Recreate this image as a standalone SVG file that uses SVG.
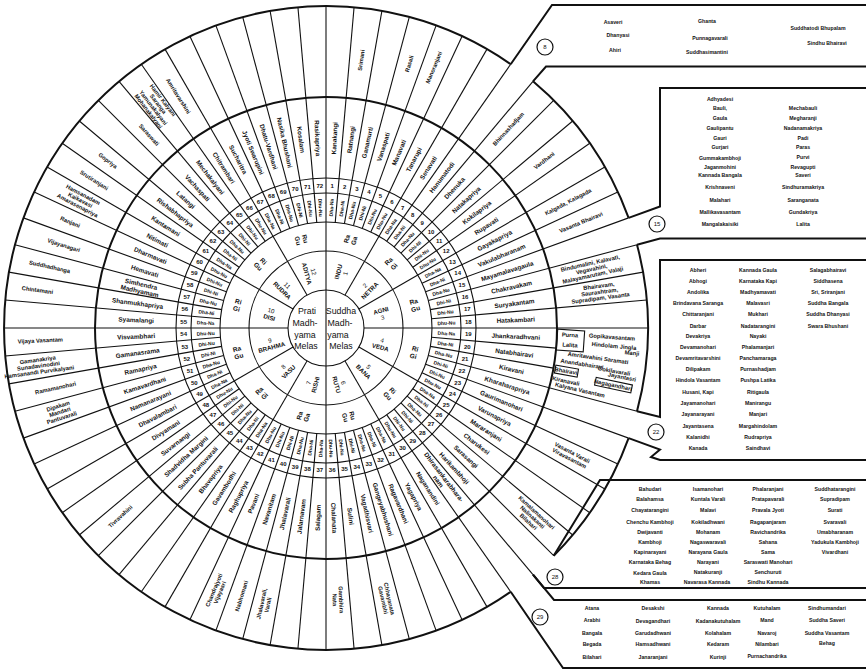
<svg xmlns="http://www.w3.org/2000/svg" width="866" height="669" viewBox="0 0 866 669">
<style>
text{font-family:"Liberation Sans",Arial,sans-serif;font-weight:bold;text-anchor:middle;dominant-baseline:central;fill:#111}
.n{font-size:6.4px}
.d{font-size:5px}
.k{font-size:6px}
.j{font-size:5.8px}
.b{font-size:5.2px}
.rg{font-size:6.5px}
.ck{font-size:6.2px}
.c{font-size:8.8px;font-weight:normal}
.cn{font-size:6px;font-weight:normal}
.ln{stroke:#111;stroke-width:1.1;fill:none}
.th{stroke:#111;stroke-width:2;fill:none}
.ci{stroke:#111;stroke-width:1.2;fill:#fff}
</style>
<defs>
<line id="m" x1="106" y1="0" x2="322" y2="0"/>
<line id="s" x1="106" y1="0" x2="231" y2="0"/>
<line id="c" x1="38" y1="0" x2="106" y2="0"/>
</defs>
<rect width="866" height="669" fill="#fff"/>

<g id="rings" transform="translate(326 328)">
<circle r="38" class="ln"/>
<circle r="77" class="ln"/>
<circle r="106" class="ln"/>
<circle r="135" class="ln"/>
<circle r="150" class="ln"/>
<circle r="231" class="th"/>
<line x1="0" y1="-38" x2="0" y2="38" class="ln"/>
<g class="ln">
<use href="#c" transform="rotate(-90)"/><use href="#c" transform="rotate(-60)"/><use href="#c" transform="rotate(-30)"/><use href="#c" transform="rotate(0)"/><use href="#c" transform="rotate(30)"/><use href="#c" transform="rotate(60)"/><use href="#c" transform="rotate(90)"/><use href="#c" transform="rotate(120)"/><use href="#c" transform="rotate(150)"/><use href="#c" transform="rotate(180)"/><use href="#c" transform="rotate(210)"/><use href="#c" transform="rotate(240)"/>
<use href="#m" transform="rotate(-90)"/><use href="#m" transform="rotate(-85)"/><use href="#m" transform="rotate(-80)"/><use href="#m" transform="rotate(-75)"/><use href="#m" transform="rotate(-70)"/><use href="#m" transform="rotate(-65)"/><use href="#m" transform="rotate(-60)"/><use href="#m" transform="rotate(-55)"/><use href="#m" transform="rotate(-50)"/><use href="#m" transform="rotate(-45)"/><use href="#m" transform="rotate(-40)"/><use href="#m" transform="rotate(-35)"/><use href="#m" transform="rotate(-30)"/><use href="#m" transform="rotate(-25)"/><use href="#m" transform="rotate(-20)"/><use href="#m" transform="rotate(-15)"/><use href="#m" transform="rotate(-10)"/><use href="#m" transform="rotate(-5)"/>
<use href="#m" transform="rotate(0)"/><use href="#s" transform="rotate(5)"/><use href="#s" transform="rotate(10)"/><use href="#m" transform="rotate(15)"/><use href="#m" transform="rotate(20)"/><use href="#m" transform="rotate(25)"/><use href="#m" transform="rotate(30)"/><use href="#m" transform="rotate(35)"/><use href="#m" transform="rotate(40)"/><use href="#m" transform="rotate(45)"/><use href="#m" transform="rotate(50)"/><use href="#m" transform="rotate(55)"/><use href="#m" transform="rotate(60)"/><use href="#m" transform="rotate(65)"/><use href="#m" transform="rotate(70)"/><use href="#m" transform="rotate(75)"/><use href="#m" transform="rotate(80)"/><use href="#m" transform="rotate(85)"/>
<use href="#m" transform="rotate(90)"/><use href="#m" transform="rotate(95)"/><use href="#m" transform="rotate(100)"/><use href="#m" transform="rotate(105)"/><use href="#m" transform="rotate(110)"/><use href="#m" transform="rotate(115)"/><use href="#m" transform="rotate(120)"/><use href="#m" transform="rotate(125)"/><use href="#m" transform="rotate(130)"/><use href="#m" transform="rotate(135)"/><use href="#m" transform="rotate(140)"/><use href="#m" transform="rotate(145)"/><use href="#m" transform="rotate(150)"/><use href="#m" transform="rotate(155)"/><use href="#m" transform="rotate(160)"/><use href="#m" transform="rotate(165)"/><use href="#m" transform="rotate(170)"/><use href="#m" transform="rotate(175)"/>
<use href="#m" transform="rotate(180)"/><use href="#m" transform="rotate(185)"/><use href="#m" transform="rotate(190)"/><use href="#m" transform="rotate(195)"/><use href="#m" transform="rotate(200)"/><use href="#m" transform="rotate(205)"/><use href="#m" transform="rotate(210)"/><use href="#m" transform="rotate(215)"/><use href="#m" transform="rotate(220)"/><use href="#m" transform="rotate(225)"/><use href="#m" transform="rotate(230)"/><use href="#m" transform="rotate(235)"/><use href="#m" transform="rotate(240)"/><use href="#m" transform="rotate(245)"/><use href="#m" transform="rotate(250)"/><use href="#m" transform="rotate(255)"/><use href="#m" transform="rotate(260)"/><use href="#m" transform="rotate(265)"/>
</g>
</g>

<g id="outer-circle">
<path class="th" d="M510.7 64.2A322 322 0 1 0 510.7 591.8"/>
<path class="th" d="M533 81.3A322 322 0 0 1 628.6 217.9"/>
<path class="th" d="M637 244.7A322 322 0 0 1 637 411.3"/>
<path class="th" d="M628.6 438.1A322 322 0 0 1 553.7 555.7"/>
</g>

<g id="centre" transform="translate(326 328)">
<text class="c" x="-19" y="-17">Prati</text><text class="c" x="-21" y="-5">Madh-</text><text class="c" x="-21" y="7">yama</text><text class="c" x="-20" y="18">Melas</text>
<text class="c" x="15" y="-17">Suddha</text><text class="c" x="14" y="-5">Madh-</text><text class="c" x="12" y="7">yama</text><text class="c" x="15" y="18">Melas</text>
</g>

<g id="chakras" transform="translate(326 328)" class="ck">
<text transform="rotate(-75) translate(57.5)"><tspan x="0" dy="-0.55em">INDU</tspan><tspan x="0" dy="1.15em" font-weight="normal">1</tspan></text>
<text transform="rotate(-45) translate(57.5)"><tspan x="0" dy="-0.55em" font-weight="normal">2</tspan><tspan x="0" dy="1.15em">NETRA</tspan></text>
<text transform="rotate(-15) translate(57.5)"><tspan x="0" dy="-0.55em">AGNI</tspan><tspan x="0" dy="1.15em" font-weight="normal">3</tspan></text>
<text transform="rotate(15) translate(57.5)"><tspan x="0" dy="-0.55em" font-weight="normal">4</tspan><tspan x="0" dy="1.15em">VEDA</tspan></text>
<text transform="rotate(45) translate(57.5)"><tspan x="0" dy="-0.55em" font-weight="normal">5</tspan><tspan x="0" dy="1.15em">BANA</tspan></text>
<text transform="rotate(75) translate(57.5)"><tspan x="0" dy="-0.55em" font-weight="normal">6</tspan><tspan x="0" dy="1.15em">RUTU</tspan></text>
<text transform="rotate(-75) translate(-57.5)"><tspan x="0" dy="-0.55em" font-weight="normal">7</tspan><tspan x="0" dy="1.15em">RISHI</tspan></text>
<text transform="rotate(-45) translate(-57.5)"><tspan x="0" dy="-0.55em" font-weight="normal">8</tspan><tspan x="0" dy="1.15em">VASU</tspan></text>
<text transform="rotate(-15) translate(-57.5)"><tspan x="0" dy="-0.55em" font-weight="normal">9</tspan><tspan x="0" dy="1.15em">BRAHMA</tspan></text>
<text transform="rotate(15) translate(-57.5)"><tspan x="0" dy="-0.55em" font-weight="normal">10</tspan><tspan x="0" dy="1.15em">DISI</tspan></text>
<text transform="rotate(45) translate(-57.5)"><tspan x="0" dy="-0.55em" font-weight="normal">11</tspan><tspan x="0" dy="1.15em">RUDRA</tspan></text>
<text transform="rotate(75) translate(-57.5)"><tspan x="0" dy="-0.55em" font-weight="normal">12</tspan><tspan x="0" dy="1.15em">ADITYA</tspan></text>
</g>

<g id="rigu" transform="translate(326 328)" class="rg">
<text transform="rotate(-75) translate(91.5)"><tspan x="0" dy="-0.55em">Ra</tspan><tspan x="0" dy="1.15em">Ga</tspan></text>
<text transform="rotate(-45) translate(91.5)"><tspan x="0" dy="-0.55em">Ra</tspan><tspan x="0" dy="1.15em">Gi</tspan></text>
<text transform="rotate(-15) translate(91.5)"><tspan x="0" dy="-0.55em">Ra</tspan><tspan x="0" dy="1.15em">Gu</tspan></text>
<text transform="rotate(15) translate(91.5)"><tspan x="0" dy="-0.55em">Ri</tspan><tspan x="0" dy="1.15em">Gi</tspan></text>
<text transform="rotate(45) translate(91.5)"><tspan x="0" dy="-0.55em">Ri</tspan><tspan x="0" dy="1.15em">Gu</tspan></text>
<text transform="rotate(75) translate(91.5)"><tspan x="0" dy="-0.55em">Ru</tspan><tspan x="0" dy="1.15em">Gu</tspan></text>
<text transform="rotate(-75) translate(-91.5)"><tspan x="0" dy="-0.55em">Ra</tspan><tspan x="0" dy="1.15em">Ga</tspan></text>
<text transform="rotate(-45) translate(-91.5)"><tspan x="0" dy="-0.55em">Ra</tspan><tspan x="0" dy="1.15em">Gi</tspan></text>
<text transform="rotate(-15) translate(-91.5)"><tspan x="0" dy="-0.55em">Ra</tspan><tspan x="0" dy="1.15em">Gu</tspan></text>
<text transform="rotate(15) translate(-91.5)"><tspan x="0" dy="-0.55em">Ri</tspan><tspan x="0" dy="1.15em">Gi</tspan></text>
<text transform="rotate(45) translate(-91.5)"><tspan x="0" dy="-0.55em">Ri</tspan><tspan x="0" dy="1.15em">Gu</tspan></text>
<text transform="rotate(75) translate(-91.5)"><tspan x="0" dy="-0.55em">Ru</tspan><tspan x="0" dy="1.15em">Gu</tspan></text>
</g>

<g id="dhani" transform="translate(326 328)" class="d">
<text transform="rotate(-87.5) translate(120.5)">Dha-Na</text><text transform="rotate(-82.5) translate(120.5)">Dha-Ni</text><text transform="rotate(-77.5) translate(120.5)">Dha-Nu</text><text transform="rotate(-72.5) translate(120.5)">Dhi-Ni</text><text transform="rotate(-67.5) translate(120.5)">Dhi-Nu</text><text transform="rotate(-62.5) translate(120.5)">Dhu-Nu</text>
<text transform="rotate(-57.5) translate(120.5)">Dha-Na</text><text transform="rotate(-52.5) translate(120.5)">Dha-Ni</text><text transform="rotate(-47.5) translate(120.5)">Dha-Nu</text><text transform="rotate(-42.5) translate(120.5)">Dhi-Ni</text><text transform="rotate(-37.5) translate(120.5)">Dhi-Nu</text><text transform="rotate(-32.5) translate(120.5)">Dhu-Nu</text>
<text transform="rotate(-27.5) translate(120.5)">Dha-Na</text><text transform="rotate(-22.5) translate(120.5)">Dha-Ni</text><text transform="rotate(-17.5) translate(120.5)">Dha-Nu</text><text transform="rotate(-12.5) translate(120.5)">Dhi-Ni</text><text transform="rotate(-7.5) translate(120.5)">Dhi-Nu</text><text transform="rotate(-2.5) translate(120.5)">Dhu-Nu</text>
<text transform="rotate(2.5) translate(120.5)">Dha-Na</text><text transform="rotate(7.5) translate(120.5)">Dha-Ni</text><text transform="rotate(12.5) translate(120.5)">Dha-Nu</text><text transform="rotate(17.5) translate(120.5)">Dhi-Ni</text><text transform="rotate(22.5) translate(120.5)">Dhi-Nu</text><text transform="rotate(27.5) translate(120.5)">Dhu-Nu</text>
<text transform="rotate(32.5) translate(120.5)">Dha-Na</text><text transform="rotate(37.5) translate(120.5)">Dha-Ni</text><text transform="rotate(42.5) translate(120.5)">Dha-Nu</text><text transform="rotate(47.5) translate(120.5)">Dhi-Ni</text><text transform="rotate(52.5) translate(120.5)">Dhi-Nu</text><text transform="rotate(57.5) translate(120.5)">Dhu-Nu</text>
<text transform="rotate(62.5) translate(120.5)">Dha-Na</text><text transform="rotate(67.5) translate(120.5)">Dha-Ni</text><text transform="rotate(72.5) translate(120.5)">Dha-Nu</text><text transform="rotate(77.5) translate(120.5)">Dhi-Ni</text><text transform="rotate(82.5) translate(120.5)">Dhi-Nu</text><text transform="rotate(87.5) translate(120.5)">Dhu-Nu</text>
<text transform="rotate(-87.5) translate(-120.5)">Dha-Na</text><text transform="rotate(-82.5) translate(-120.5)">Dha-Ni</text><text transform="rotate(-77.5) translate(-120.5)">Dha-Nu</text><text transform="rotate(-72.5) translate(-120.5)">Dhi-Ni</text><text transform="rotate(-67.5) translate(-120.5)">Dhi-Nu</text><text transform="rotate(-62.5) translate(-120.5)">Dhu-Nu</text>
<text transform="rotate(-57.5) translate(-120.5)">Dha-Na</text><text transform="rotate(-52.5) translate(-120.5)">Dha-Ni</text><text transform="rotate(-47.5) translate(-120.5)">Dha-Nu</text><text transform="rotate(-42.5) translate(-120.5)">Dhi-Ni</text><text transform="rotate(-37.5) translate(-120.5)">Dhi-Nu</text><text transform="rotate(-32.5) translate(-120.5)">Dhu-Nu</text>
<text transform="rotate(-27.5) translate(-120.5)">Dha-Na</text><text transform="rotate(-22.5) translate(-120.5)">Dha-Ni</text><text transform="rotate(-17.5) translate(-120.5)">Dha-Nu</text><text transform="rotate(-12.5) translate(-120.5)">Dhi-Ni</text><text transform="rotate(-7.5) translate(-120.5)">Dhi-Nu</text><text transform="rotate(-2.5) translate(-120.5)">Dhu-Nu</text>
<text transform="rotate(2.5) translate(-120.5)">Dha-Na</text><text transform="rotate(7.5) translate(-120.5)">Dha-Ni</text><text transform="rotate(12.5) translate(-120.5)">Dha-Nu</text><text transform="rotate(17.5) translate(-120.5)">Dhi-Ni</text><text transform="rotate(22.5) translate(-120.5)">Dhi-Nu</text><text transform="rotate(27.5) translate(-120.5)">Dhu-Nu</text>
<text transform="rotate(32.5) translate(-120.5)">Dha-Na</text><text transform="rotate(37.5) translate(-120.5)">Dha-Ni</text><text transform="rotate(42.5) translate(-120.5)">Dha-Nu</text><text transform="rotate(47.5) translate(-120.5)">Dhi-Ni</text><text transform="rotate(52.5) translate(-120.5)">Dhi-Nu</text><text transform="rotate(57.5) translate(-120.5)">Dhu-Nu</text>
<text transform="rotate(62.5) translate(-120.5)">Dha-Na</text><text transform="rotate(67.5) translate(-120.5)">Dha-Ni</text><text transform="rotate(72.5) translate(-120.5)">Dha-Nu</text><text transform="rotate(77.5) translate(-120.5)">Dhi-Ni</text><text transform="rotate(82.5) translate(-120.5)">Dhi-Nu</text><text transform="rotate(87.5) translate(-120.5)">Dhu-Nu</text>
</g>

<g id="numbers" transform="translate(326 328)" class="k">
<text transform="rotate(-87.5) translate(142.5) rotate(87.5)">1</text><text transform="rotate(-82.5) translate(142.5) rotate(82.5)">2</text><text transform="rotate(-77.5) translate(142.5) rotate(77.5)">3</text><text transform="rotate(-72.5) translate(142.5) rotate(72.5)">4</text><text transform="rotate(-67.5) translate(142.5) rotate(67.5)">5</text><text transform="rotate(-62.5) translate(142.5) rotate(62.5)">6</text>
<text transform="rotate(-57.5) translate(142.5) rotate(57.5)">7</text><text transform="rotate(-52.5) translate(142.5) rotate(52.5)">8</text><text transform="rotate(-47.5) translate(142.5) rotate(47.5)">9</text><text transform="rotate(-42.5) translate(142.5) rotate(42.5)">10</text><text transform="rotate(-37.5) translate(142.5) rotate(37.5)">11</text><text transform="rotate(-32.5) translate(142.5) rotate(32.5)">12</text>
<text transform="rotate(-27.5) translate(142.5) rotate(27.5)">13</text><text transform="rotate(-22.5) translate(142.5) rotate(22.5)">14</text><text transform="rotate(-17.5) translate(142.5) rotate(17.5)">15</text><text transform="rotate(-12.5) translate(142.5) rotate(12.5)">16</text><text transform="rotate(-7.5) translate(142.5) rotate(7.5)">17</text><text transform="rotate(-2.5) translate(142.5) rotate(2.5)">18</text>
<text transform="rotate(2.5) translate(142.5) rotate(-2.5)">19</text><text transform="rotate(7.5) translate(142.5) rotate(-7.5)">20</text><text transform="rotate(12.5) translate(142.5) rotate(-12.5)">21</text><text transform="rotate(17.5) translate(142.5) rotate(-17.5)">22</text><text transform="rotate(22.5) translate(142.5) rotate(-22.5)">23</text><text transform="rotate(27.5) translate(142.5) rotate(-27.5)">24</text>
<text transform="rotate(32.5) translate(142.5) rotate(-32.5)">25</text><text transform="rotate(37.5) translate(142.5) rotate(-37.5)">26</text><text transform="rotate(42.5) translate(142.5) rotate(-42.5)">27</text><text transform="rotate(47.5) translate(142.5) rotate(-47.5)">28</text><text transform="rotate(52.5) translate(142.5) rotate(-52.5)">29</text><text transform="rotate(57.5) translate(142.5) rotate(-57.5)">30</text>
<text transform="rotate(62.5) translate(142.5) rotate(-62.5)">31</text><text transform="rotate(67.5) translate(142.5) rotate(-67.5)">32</text><text transform="rotate(72.5) translate(142.5) rotate(-72.5)">33</text><text transform="rotate(77.5) translate(142.5) rotate(-77.5)">34</text><text transform="rotate(82.5) translate(142.5) rotate(-82.5)">35</text><text transform="rotate(87.5) translate(142.5) rotate(-87.5)">36</text>
<text transform="rotate(-87.5) translate(-142.5) rotate(87.5)">37</text><text transform="rotate(-82.5) translate(-142.5) rotate(82.5)">38</text><text transform="rotate(-77.5) translate(-142.5) rotate(77.5)">39</text><text transform="rotate(-72.5) translate(-142.5) rotate(72.5)">40</text><text transform="rotate(-67.5) translate(-142.5) rotate(67.5)">41</text><text transform="rotate(-62.5) translate(-142.5) rotate(62.5)">42</text>
<text transform="rotate(-57.5) translate(-142.5) rotate(57.5)">43</text><text transform="rotate(-52.5) translate(-142.5) rotate(52.5)">44</text><text transform="rotate(-47.5) translate(-142.5) rotate(47.5)">45</text><text transform="rotate(-42.5) translate(-142.5) rotate(42.5)">46</text><text transform="rotate(-37.5) translate(-142.5) rotate(37.5)">47</text><text transform="rotate(-32.5) translate(-142.5) rotate(32.5)">48</text>
<text transform="rotate(-27.5) translate(-142.5) rotate(27.5)">49</text><text transform="rotate(-22.5) translate(-142.5) rotate(22.5)">50</text><text transform="rotate(-17.5) translate(-142.5) rotate(17.5)">51</text><text transform="rotate(-12.5) translate(-142.5) rotate(12.5)">52</text><text transform="rotate(-7.5) translate(-142.5) rotate(7.5)">53</text><text transform="rotate(-2.5) translate(-142.5) rotate(2.5)">54</text>
<text transform="rotate(2.5) translate(-142.5) rotate(-2.5)">55</text><text transform="rotate(7.5) translate(-142.5) rotate(-7.5)">56</text><text transform="rotate(12.5) translate(-142.5) rotate(-12.5)">57</text><text transform="rotate(17.5) translate(-142.5) rotate(-17.5)">58</text><text transform="rotate(22.5) translate(-142.5) rotate(-22.5)">59</text><text transform="rotate(27.5) translate(-142.5) rotate(-27.5)">60</text>
<text transform="rotate(32.5) translate(-142.5) rotate(-32.5)">61</text><text transform="rotate(37.5) translate(-142.5) rotate(-37.5)">62</text><text transform="rotate(42.5) translate(-142.5) rotate(-42.5)">63</text><text transform="rotate(47.5) translate(-142.5) rotate(-47.5)">64</text><text transform="rotate(52.5) translate(-142.5) rotate(-52.5)">65</text><text transform="rotate(57.5) translate(-142.5) rotate(-57.5)">66</text>
<text transform="rotate(62.5) translate(-142.5) rotate(-62.5)">67</text><text transform="rotate(67.5) translate(-142.5) rotate(-67.5)">68</text><text transform="rotate(72.5) translate(-142.5) rotate(-72.5)">69</text><text transform="rotate(77.5) translate(-142.5) rotate(-77.5)">70</text><text transform="rotate(82.5) translate(-142.5) rotate(-82.5)">71</text><text transform="rotate(87.5) translate(-142.5) rotate(-87.5)">72</text>
</g>

<g id="melas" transform="translate(326 328)" class="n">
<text transform="rotate(-87.5) translate(190)">Kanakangi</text><text transform="rotate(-82.5) translate(190)">Ratnangi</text><text transform="rotate(-77.5) translate(190)">Ganamurti</text><text transform="rotate(-72.5) translate(190)">Vanaspati</text><text transform="rotate(-67.5) translate(190)">Manavati</text><text transform="rotate(-62.5) translate(190)">Tanarupi</text>
<text transform="rotate(-57.5) translate(190)">Senavati</text><text transform="rotate(-52.5) translate(190)">Hanumatodi</text><text transform="rotate(-47.5) translate(190)">Dhenuka</text><text transform="rotate(-42.5) translate(190)">Natakapriya</text><text transform="rotate(-37.5) translate(190)">Kokilapriya</text><text transform="rotate(-32.5) translate(190)">Rupavati</text>
<text transform="rotate(-27.5) translate(190)">Gayakapriya</text><text transform="rotate(-22.5) translate(190)">Vakulabharanam</text><text transform="rotate(-17.5) translate(190)">Mayamalavagaula</text><text transform="rotate(-12.5) translate(190)">Chakravakam</text><text transform="rotate(-7.5) translate(190)">Suryakantam</text><text transform="rotate(-2.5) translate(190)">Hatakambari</text>
<text transform="rotate(2.5) translate(190)">Jhankaradhvani</text><text transform="rotate(7.5) translate(190)">Natabhairavi</text><text transform="rotate(12.5) translate(190)">Kiravani</text><text transform="rotate(17.5) translate(190)">Kharaharapriya</text><text transform="rotate(22.5) translate(190)">Gaurimanohari</text><text transform="rotate(27.5) translate(190)">Varunapriya</text>
<text transform="rotate(32.5) translate(190)">Mararanjani</text><text transform="rotate(37.5) translate(190)">Charukesi</text><text transform="rotate(42.5) translate(190)">Sarasangi</text><text transform="rotate(47.5) translate(190)">Harikambhoji</text><text transform="rotate(52.5) translate(190)"><tspan x="0" dy="-0.55em">Dhirasankarabhara-</tspan><tspan x="0" dy="1.1em">nam</tspan></text><text transform="rotate(57.5) translate(190)">Naganandini</text>
<text transform="rotate(62.5) translate(190)">Yagapriya</text><text transform="rotate(67.5) translate(190)">Ragavardhani</text><text transform="rotate(72.5) translate(190)">Gangeyabhushani</text><text transform="rotate(77.5) translate(190)">Vagadhisvari</text><text transform="rotate(82.5) translate(190)">Sulini</text><text transform="rotate(87.5) translate(190)">Chalanata</text>
<text transform="rotate(-87.5) translate(-190)">Salagam</text><text transform="rotate(-82.5) translate(-190)">Jalarnavam</text><text transform="rotate(-77.5) translate(-190)">Jhalavarali</text><text transform="rotate(-72.5) translate(-190)">Navanitam</text><text transform="rotate(-67.5) translate(-190)">Pavani</text><text transform="rotate(-62.5) translate(-190)">Raghupriya</text>
<text transform="rotate(-57.5) translate(-190)">Gavambodhi</text><text transform="rotate(-52.5) translate(-190)">Bhavapriya</text><text transform="rotate(-47.5) translate(-190)">Subha Pantuvarali</text><text transform="rotate(-42.5) translate(-190)">Shadvidha Margini</text><text transform="rotate(-37.5) translate(-190)">Suvarnangi</text><text transform="rotate(-32.5) translate(-190)">Divyamani</text>
<text transform="rotate(-27.5) translate(-190)">Dhavalambari</text><text transform="rotate(-22.5) translate(-190)">Namanarayani</text><text transform="rotate(-17.5) translate(-190)">Kamavardhani</text><text transform="rotate(-12.5) translate(-190)">Ramapriya</text><text transform="rotate(-7.5) translate(-190)">Gamanasrama</text><text transform="rotate(-2.5) translate(-190)">Visvambhari</text>
<text transform="rotate(2.5) translate(-190)">Syamalangi</text><text transform="rotate(7.5) translate(-190)">Shanmukhapriya</text><text transform="rotate(12.5) translate(-190)"><tspan x="0" dy="-0.55em">Simhendra</tspan><tspan x="0" dy="1.1em">Madhyamam</tspan></text><text transform="rotate(17.5) translate(-190)">Hemavati</text><text transform="rotate(22.5) translate(-190)">Dharmavati</text><text transform="rotate(27.5) translate(-190)">Nitimati</text>
<text transform="rotate(32.5) translate(-190)">Kantamani</text><text transform="rotate(37.5) translate(-190)">Rishabhapriya</text><text transform="rotate(42.5) translate(-190)">Latangi</text><text transform="rotate(47.5) translate(-190)">Vachaspati</text><text transform="rotate(52.5) translate(-190)">Mechakalyani</text><text transform="rotate(57.5) translate(-190)">Chitrambari</text>
<text transform="rotate(62.5) translate(-190)">Sucharitra</text><text transform="rotate(67.5) translate(-190)">Jyoti Swarupini</text><text transform="rotate(72.5) translate(-190)">Dhatu-Vardhani</text><text transform="rotate(77.5) translate(-190)">Nasika Bhushani</text><text transform="rotate(82.5) translate(-190)">Kosalam</text><text transform="rotate(87.5) translate(-190)">Rasikapriya</text>
</g>

<g id="janyas" transform="translate(326 328)" class="j">
<text transform="rotate(-82.5) translate(270)">Srimani</text>
<text transform="rotate(-72.5) translate(277)">Rasali</text>
<text transform="rotate(-67.5) translate(282)">Manoranjani</text>
<text transform="rotate(-47.5) translate(270)">Bhinnashadjam</text>
<text transform="rotate(-37.5) translate(275)">Vardhani</text>
<text transform="rotate(-27.5) translate(273)">Kalgada, Kalagada</text>
<text transform="rotate(-22.5) translate(276)">Vasanta Bhairavi</text>
<text transform="rotate(-12.5) translate(272)"><tspan x="0" dy="-1.05em">Bindumalini, Kalavati,</tspan><tspan x="0" dy="1.05em">Vegavahini,</tspan><tspan x="0" dy="1.05em">Malayamarutam, Valaji</tspan></text>
<text transform="rotate(-7.5) translate(276)"><tspan x="0" dy="-1.05em">Bhairavam,</tspan><tspan x="0" dy="1.05em">Saurashtram,</tspan><tspan x="0" dy="1.05em">Supradipam, Vasanta</tspan></text>
<text transform="rotate(27.5) translate(276)"><tspan x="0" dy="-0.55em">Vasanta Varali</tspan><tspan x="0" dy="1.1em">Viravasantam</tspan></text>
<text transform="rotate(42.5) translate(280)"><tspan x="0" dy="-1.05em">Kamalamanohari</tspan><tspan x="0" dy="1.05em">Nalinakanti</tspan><tspan x="0" dy="1.05em">Bilahari</tspan></text>
<text transform="rotate(77.5) translate(278)"><tspan x="0" dy="-0.55em">Chhayanata</tspan><tspan x="0" dy="1.1em">Gavambhi</tspan></text>
<text transform="rotate(87.5) translate(272)"><tspan x="0" dy="-0.55em">Gambhira</tspan><tspan x="0" dy="1.1em">Nata</tspan></text>
<text transform="rotate(-77.5) translate(-283)"><tspan x="0" dy="-0.55em">Jhalavarali,</tspan><tspan x="0" dy="1.1em">Varali</tspan></text>
<text transform="rotate(-72.5) translate(-281)">Nabhomani</text>
<text transform="rotate(-67.5) translate(-285)"><tspan x="0" dy="-0.55em">Chandrajyoti</tspan><tspan x="0" dy="1.1em">Vijayasri</tspan></text>
<text transform="rotate(-42.5) translate(-279)">Tivravahini</text>
<text transform="rotate(-17.5) translate(-279)"><tspan x="0" dy="-1.05em">Dipakam</tspan><tspan x="0" dy="1.05em">Mandari</tspan><tspan x="0" dy="1.05em">Pantuvarali</tspan></text>
<text transform="rotate(-12.5) translate(-277)">Ramamanohari</text>
<text transform="rotate(-7.5) translate(-290)"><tspan x="0" dy="-1.05em">Gamanakriya</tspan><tspan x="0" dy="1.05em">Sunadavinodini</tspan><tspan x="0" dy="1.05em">Hamsanandi Purvikalyani</tspan></text>
<text transform="rotate(-2.5) translate(-286)">Vijaya Vasantam</text>
<text transform="rotate(7.5) translate(-291)">Chintamani</text>
<text transform="rotate(12.5) translate(-283)">Suddhadhanga</text>
<text transform="rotate(17.5) translate(-275)">Vijayanagari</text>
<text transform="rotate(22.5) translate(-277)">Ranjani</text>
<text transform="rotate(27.5) translate(-277)"><tspan x="0" dy="-1.05em">Hamsanadam</tspan><tspan x="0" dy="1.05em">Kaikavasi</tspan><tspan x="0" dy="1.05em">Amarasenapriya</tspan></text>
<text transform="rotate(32.5) translate(-275)">Srutiranjani</text>
<text transform="rotate(37.5) translate(-275)">Gopriya</text>
<text transform="rotate(47.5) translate(-262)">Saraswati</text>
<text transform="rotate(52.5) translate(-280)"><tspan x="0" dy="-1.6em">Hamir Kalyani</tspan><tspan x="0" dy="1.05em">Saranga</tspan><tspan x="0" dy="1.05em">Yamunakalyani</tspan><tspan x="0" dy="1.05em">Mohanakalyani</tspan></text>
<text transform="rotate(57.5) translate(-275)">Amritavarshini</text>
</g>

<g id="sector19-22" class="j">
<rect x="557" y="330" width="27" height="21" class="ln" transform="rotate(4 570 340)"/>
<text x="570" y="335" transform="rotate(4 570 335)">Purna</text>
<text x="570" y="345" transform="rotate(4 570 345)">Lalita</text>
<text x="612" y="337" transform="rotate(4 612 337)">Gopikavasantam</text>
<text x="614" y="346" transform="rotate(5 614 346)">Hindolam Jingla</text>
<text x="632" y="353" transform="rotate(6 632 353)">Manji</text>
<text x="598" y="358" transform="rotate(8 598 358)">Amritavahini  Saramati</text>
<text x="582" y="364" transform="rotate(9 582 364)">Anandabhairavi</text>
<rect x="555" y="367" width="23" height="8" class="ln" transform="rotate(10 566 371)"/>
<text x="566" y="371" transform="rotate(10 566 371)">Bhairavi</text>
<text x="614" y="371" transform="rotate(10 614 371)">Gokilavarali</text>
<text x="622" y="377" transform="rotate(11 622 377)">Jayantasri</text>
<text x="566" y="381" transform="rotate(12 566 381)">Kiranavali</text>
<rect x="595" y="381" width="37" height="8" class="ln" transform="rotate(12 613 385)"/>
<text x="613" y="385" transform="rotate(12 613 385)">Nagagandhari</text>
<text x="580" y="390" transform="rotate(13 580 390)">Kalyana Vasantam</text>
</g>

<g id="callout-8">
<path class="th" d="M510.7 64.2L552 5H866M533 81.3L546 66.5H866"/>
<circle cx="545" cy="47" r="8" class="ci"/><text x="545" y="47" class="cn">8</text>
<g class="b"><text x="613" y="22">Asaveri</text><text x="618" y="35">Dhanyasi</text><text x="615" y="50">Ahiri</text>
<text x="707" y="21">Ghanta</text><text x="710" y="38">Punnagavarali</text><text x="707" y="52">Suddhasimantini</text>
<text x="818" y="28">Suddhatodi  Bhupalam</text><text x="827" y="43">Sindhu Bhairavi</text></g>
</g>

<g id="callout-15">
<path class="th" d="M628.6 217.9L660 206.5V88H866M637 244.7L660 238.5H866"/>
<circle cx="657" cy="224" r="8" class="ci"/><text x="657" y="224" class="cn">15</text>
<g class="b">
<text x="720" y="99">Adhyadesi</text><text x="720" y="108">Bauli,</text><text x="720" y="118">Gaula</text><text x="720" y="128">Gaulipantu</text><text x="720" y="138">Gauri</text><text x="720" y="147">Gurjari</text><text x="720" y="158">Gummakambhoji</text><text x="720" y="167">Jaganmohini</text><text x="720" y="175">Kannada Bangala</text><text x="720" y="187">Krishnaveni</text><text x="720" y="200">Malahari</text><text x="720" y="212">Mallikavasantam</text><text x="720" y="224">Mangalakaisiki</text>
<text x="803" y="108">Mechabauli</text><text x="803" y="118">Megharanji</text><text x="803" y="128">Nadanamakriya</text><text x="803" y="138">Padi</text><text x="803" y="147">Paras</text><text x="803" y="157">Purvi</text><text x="803" y="167">Revagupti</text><text x="803" y="175">Saveri</text><text x="803" y="187">Sindhuramakriya</text><text x="803" y="200">Saranganata</text><text x="803" y="212">Gundakriya</text><text x="803" y="224">Lalita</text>
</g>
</g>

<g id="callout-22">
<path class="th" d="M637 411.3L660 417V260H866M628.6 438.1L660 449.5L651 457L660 460H866"/>
<circle cx="656" cy="432" r="8" class="ci"/><text x="656" y="432" class="cn">22</text>
<g class="b">
<text x="698" y="270">Abheri</text><text x="698" y="281">Abhogi</text><text x="698" y="292">Andolika</text><text x="698" y="303">Brindavana Saranga</text><text x="698" y="314">Chittaranjani</text><text x="698" y="326">Darbar</text><text x="698" y="336">Devakriya</text><text x="698" y="347">Devamanohari</text><text x="698" y="358">Devamritavarshini</text><text x="698" y="369">Dilipakam</text><text x="698" y="380">Hindola Vasantam</text><text x="698" y="392">Husani, Kapi</text><text x="698" y="403">Jayamanohari</text><text x="698" y="414">Jayanarayani</text><text x="698" y="426">Jayantasena</text><text x="698" y="437">Kalanidhi</text><text x="698" y="448">Kanada</text>
<text x="758" y="270">Kannada Gaula</text><text x="758" y="281">Karnataka Kapi</text><text x="758" y="292">Madhyamavati</text><text x="758" y="303">Malavasri</text><text x="758" y="314">Mukhari</text><text x="758" y="326">Nadatarangini</text><text x="758" y="336">Nayaki</text><text x="758" y="347">Phalamanjari</text><text x="758" y="358">Panchamaraga</text><text x="758" y="369">Purnashadjam</text><text x="758" y="380">Pushpa Latika</text><text x="758" y="392">Ritigaula</text><text x="758" y="403">Manirangu</text><text x="758" y="414">Manjari</text><text x="758" y="426">Margahindolam</text><text x="758" y="437">Rudrapriya</text><text x="758" y="448">Saindhavi</text>
<text x="828" y="270">Salagabhairavi</text><text x="828" y="281">Siddhasena</text><text x="828" y="292">Sri, Sriranjani</text><text x="828" y="303">Suddha Bangala</text><text x="828" y="314">Suddha Dhanyasi</text><text x="828" y="326">Swara Bhushani</text>
</g>
</g>

<g id="callout-28">
<path class="th" d="M553.7 555.7L600 480H866M533 574.7L544 588H866"/>
<circle cx="555" cy="577" r="8" class="ci"/><text x="555" y="577" class="cn">28</text>
<g class="b">
<text x="650" y="489">Bahudari</text><text x="650" y="499">Balahamsa</text><text x="650" y="510">Chayatarangini</text><text x="650" y="522">Chenchu Kambhoji</text><text x="650" y="532">Dwijavanti</text><text x="650" y="542">Kambhoji</text><text x="650" y="552">Kapinarayani</text><text x="650" y="562">Karnataka Behag</text><text x="650" y="573">Kedara Gaula</text><text x="650" y="582">Khamas</text>
<text x="708" y="489">Isamanohari</text><text x="708" y="499">Kuntala Varali</text><text x="708" y="510">Malavi</text><text x="708" y="522">Kokiladhwani</text><text x="708" y="532">Mohanam</text><text x="708" y="542">Nagaswaravali</text><text x="708" y="552">Narayana Gaula</text><text x="708" y="562">Narayani</text><text x="708" y="572">Natakuranji</text><text x="707" y="582">Navarasa  Kannada</text>
<text x="768" y="489">Phalaranjani</text><text x="768" y="499">Pratapavarali</text><text x="768" y="510">Pravala Jyoti</text><text x="768" y="522">Ragapanjaram</text><text x="768" y="532">Ravichandrika</text><text x="768" y="542">Sahana</text><text x="768" y="552">Sama</text><text x="768" y="562">Saraswati Manohari</text><text x="768" y="572">Senchuruti</text><text x="768" y="582">Sindhu Kannada</text>
<text x="835" y="489">Suddhatarangini</text><text x="835" y="499">Supradipam</text><text x="835" y="510">Surati</text><text x="835" y="522">Svaravali</text><text x="835" y="532">Umabharanam</text><text x="835" y="542">Yadukula Kambhoji</text><text x="835" y="552">Vivardhani</text>
</g>
</g>

<g id="callout-29">
<path class="th" d="M533 574.7L554 600H866M510.7 591.8L563 668H866"/>
<circle cx="540" cy="617" r="8" class="ci"/><text x="540" y="617" class="cn">29</text>
<g class="b">
<text x="592" y="608">Atana</text><text x="592" y="620">Arabhi</text><text x="592" y="633">Bangala</text><text x="592" y="644">Begada</text><text x="592" y="657">Bilahari</text>
<text x="653" y="608">Desakshi</text><text x="653" y="621">Devagandhari</text><text x="653" y="633">Garudadhwani</text><text x="653" y="644">Hamsadhwani</text><text x="653" y="657">Janaranjani</text>
<text x="718" y="608">Kannada</text><text x="718" y="621">Kadanakutuhalam</text><text x="718" y="633">Kolahalam</text><text x="718" y="644">Kedaram</text><text x="718" y="657">Kurinji</text>
<text x="767" y="608">Kutuhalam</text><text x="767" y="620">Mand</text><text x="767" y="633">Navaroj</text><text x="767" y="644">Nilambari</text><text x="767" y="656">Purnachandrika</text>
<text x="827" y="608">Sindhumandari</text><text x="827" y="620">Suddha Saveri</text><text x="827" y="633">Suddha Vasantam</text><text x="827" y="643">Behag</text>
</g>
</g>
</svg>
